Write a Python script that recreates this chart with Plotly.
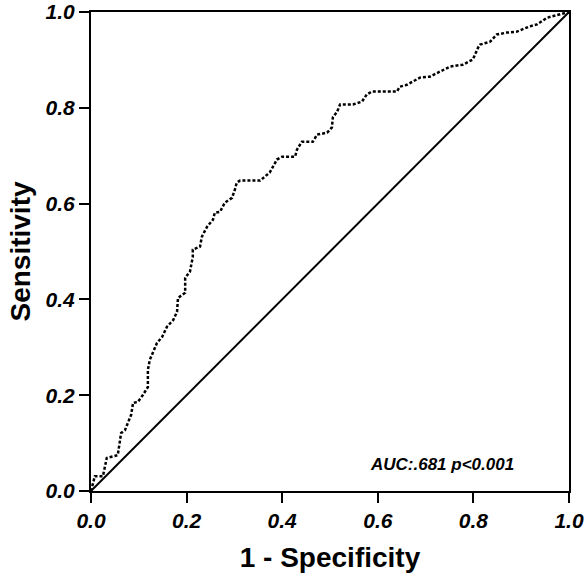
import plotly.graph_objects as go

# ROC curve (1 - specificity, sensitivity)
fpr = [0.0, 0.008, 0.025, 0.033, 0.056, 0.061, 0.063, 0.071, 0.084, 0.088,
       0.098, 0.109, 0.119, 0.119, 0.123, 0.130, 0.138, 0.149, 0.159, 0.172,
       0.180, 0.182, 0.197, 0.197, 0.207, 0.213, 0.213, 0.228, 0.232, 0.243,
       0.255, 0.259, 0.270, 0.280, 0.295, 0.301, 0.305, 0.312, 0.354, 0.368,
       0.374, 0.389, 0.400, 0.427, 0.431, 0.441, 0.464, 0.473, 0.494, 0.504,
       0.506, 0.515, 0.521, 0.548, 0.567, 0.577, 0.588, 0.640, 0.646, 0.661,
       0.688, 0.709, 0.730, 0.751, 0.778, 0.799, 0.810, 0.814, 0.835, 0.849,
       0.870, 0.891, 0.918, 0.933, 0.954, 0.981, 1.0]
tpr = [0.0, 0.031, 0.031, 0.069, 0.075, 0.107, 0.121, 0.127, 0.159, 0.184,
       0.186, 0.201, 0.217, 0.253, 0.274, 0.290, 0.309, 0.322, 0.343, 0.357,
       0.374, 0.403, 0.414, 0.445, 0.458, 0.489, 0.504, 0.510, 0.531, 0.552,
       0.566, 0.581, 0.583, 0.602, 0.612, 0.629, 0.644, 0.648, 0.648, 0.660,
       0.665, 0.692, 0.698, 0.698, 0.713, 0.729, 0.729, 0.744, 0.748, 0.759,
       0.780, 0.792, 0.807, 0.807, 0.813, 0.828, 0.834, 0.834, 0.844, 0.848,
       0.863, 0.865, 0.876, 0.886, 0.890, 0.901, 0.926, 0.932, 0.938, 0.953,
       0.957, 0.959, 0.970, 0.974, 0.988, 0.995, 1.0]

ref_x = [0, 1]
ref_y = [0, 1]

tick_vals = [0.0, 0.2, 0.4, 0.6, 0.8, 1.0]

FONT = "Liberation Sans, Arial, sans-serif"

fig = go.Figure()
fig.add_trace(go.Scatter(x=ref_x, y=ref_y, mode='lines',
                         line=dict(color='black', width=2),
                         showlegend=False, hoverinfo='skip'))
fig.add_trace(go.Scatter(x=fpr, y=tpr, mode='lines',
                         line=dict(color='black', width=2.5, dash='3px,2px'),
                         showlegend=False))

fig.add_annotation(x=0.735, y=0.055, xref='x', yref='y', text='AUC:.681 p<0.001',
                   showarrow=False,
                   font=dict(family=FONT, size=17, color='black', weight='bold', style='italic'))

axis_common = dict(range=[0, 1], tickvals=tick_vals, tickformat='.1f',
                   showgrid=False, zeroline=False, automargin=False,
                   ticklabeloverflow='allow',
                   showline=True, linecolor='black', linewidth=2, mirror=True,
                   ticks='outside', ticklen=10, tickwidth=2, tickcolor='black',
                   tickfont=dict(family=FONT, size=21, color='black',
                                 weight='bold', style='italic'))

fig.update_xaxes(title=dict(text='1 - Specificity', standoff=16,
                            font=dict(family=FONT, size=28, color='black', weight='bold')),
                 **axis_common)
fig.update_yaxes(title=dict(text='Sensitivity', standoff=7,
                            font=dict(family=FONT, size=28, color='black', weight='bold')),
                 **axis_common)

fig.update_layout(width=587, height=576,
                  margin=dict(l=91, r=18, t=12, b=85),
                  plot_bgcolor='white', paper_bgcolor='white')

# drop the page's default 8px body margin so the figure sits at the corner
fig.write_html("out.html", config={'displayModeBar': False},
               post_script="document.body.style.margin='0';")
